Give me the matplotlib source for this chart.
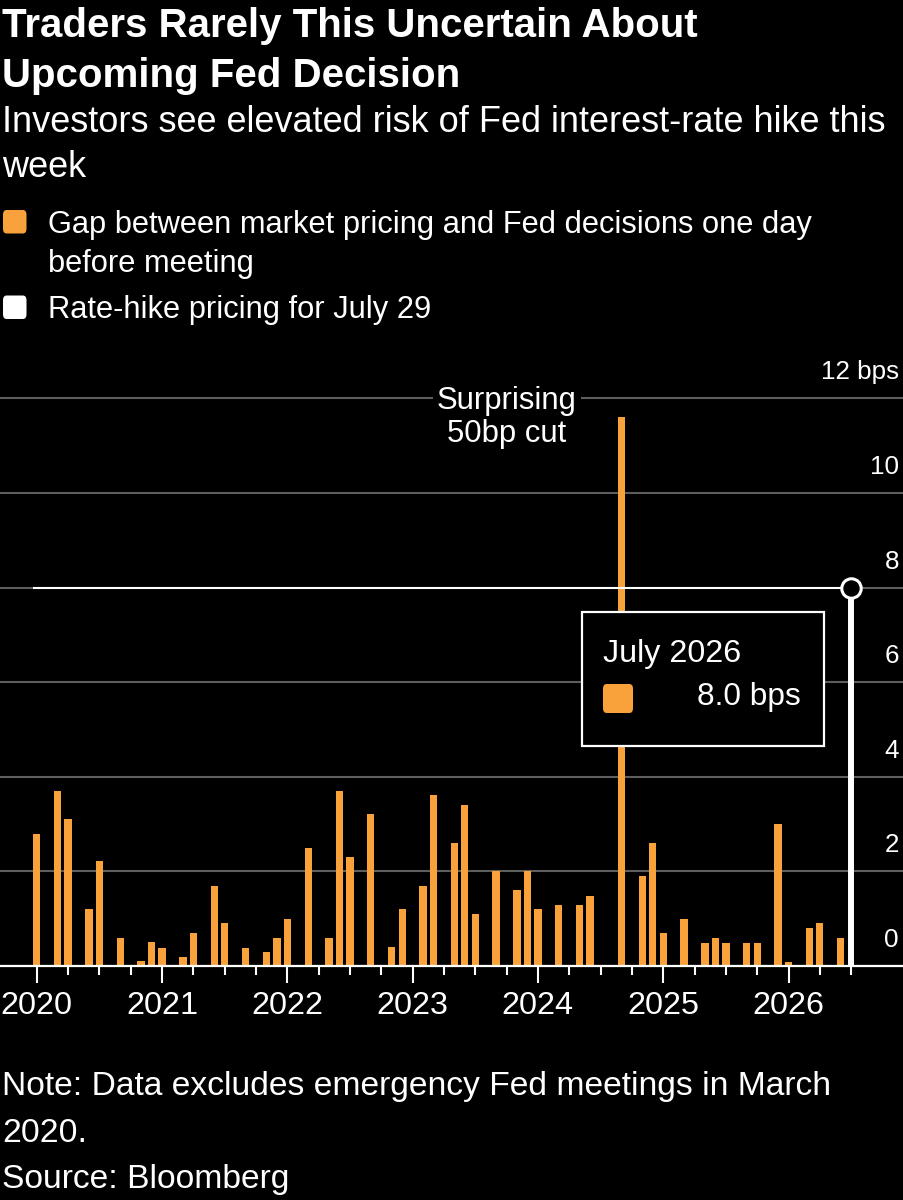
import matplotlib
matplotlib.use("Agg")
import matplotlib.pyplot as plt
from matplotlib.patches import Rectangle, FancyBboxPatch
import matplotlib.transforms as mtransforms

# ---------------- data ----------------
meeting_months = [
    "2020-01", "2020-03", "2020-04", "2020-06", "2020-07", "2020-09", "2020-11", "2020-12",
    "2021-01", "2021-03", "2021-04", "2021-06", "2021-07", "2021-09", "2021-11", "2021-12",
    "2022-01", "2022-03", "2022-05", "2022-06", "2022-07", "2022-09", "2022-11", "2022-12",
    "2023-02", "2023-03", "2023-05", "2023-06", "2023-07", "2023-09", "2023-11", "2023-12",
    "2024-01", "2024-03", "2024-05", "2024-06", "2024-07", "2024-09", "2024-11", "2024-12",
    "2025-01", "2025-03", "2025-05", "2025-06", "2025-07", "2025-09", "2025-10", "2025-12",
    "2026-01", "2026-03", "2026-04", "2026-06",
]
gap_bps = [
    2.80, 3.71, 3.10, 1.20, 2.21, 0.60, 0.10, 0.50,
    0.39, 0.20, 0.70, 1.70, 0.90, 0.39, 0.30, 0.60,
    1.00, 2.50, 0.60, 3.71, 2.30, 3.21, 0.40, 1.20,
    1.70, 3.61, 2.61, 3.41, 1.10, 2.00, 1.60, 2.00,
    1.20, 1.30, 1.30, 1.49, 0.00, 11.60, 1.90, 2.60,
    0.70, 0.99, 0.49, 0.60, 0.49, 0.49, 0.49, 3.00,
    0.09, 0.80, 0.90, 0.60,
]
hike_month = "2026-07"
hike_bps = 8.0
year_labels = ["2020", "2021", "2022", "2023", "2024", "2025", "2026"]
ytick_values = [0, 2, 4, 6, 8, 10, 12]
ytick_labels = ["0", "2", "4", "6", "8", "10", "12 bps"]

title_lines = ["Traders Rarely This Uncertain About", "Upcoming Fed Decision"]
subtitle_lines = ["Investors see elevated risk of Fed interest-rate hike this", "week"]
legend_lines_gap = ["Gap between market pricing and Fed decisions one day", "before meeting"]
legend_hike = "Rate-hike pricing for July 29"
note_lines = ["Note: Data excludes emergency Fed meetings in March", "2020."]
source_line = "Source: Bloomberg"
annotation = "Surprising\n50bp cut"
tooltip_title = "July 2026"
tooltip_value = "8.0 bps"

# ---------------- style ----------------
ORANGE = "#F9A13A"
BG = "black"
GRID = "#5e5e5e"
FONT = "Liberation Sans"
plt.rcParams["font.family"] = [FONT, "DejaVu Sans"]

W, H = 904, 1200
fig = plt.figure(figsize=(W / 100, H / 100), dpi=100, facecolor=BG)


def fx(x):
    return x / W


def fy(y):
    return 1 - y / H


def month_index(s):
    y, m = s.split("-")
    return (int(y) - 2020) * 12 + int(m) - 1


xs = [month_index(m) for m in meeting_months]
hike_x = month_index(hike_month)

# axes geometry (pixels)
px_per_month = 125.3 / 12
x0_px = 36.7          # Jan 2020
base_px = 966.0
px_per_bps = 47.3
ytop = 12.5
top_px = base_px - ytop * px_per_bps

ax = fig.add_axes([0, fy(base_px), 1, (base_px - top_px) / H], facecolor=BG)
ax.set_xlim(-x0_px / px_per_month, (W - x0_px) / px_per_month)
ax.set_ylim(0, ytop)

for s in ["top", "left", "right"]:
    ax.spines[s].set_visible(False)
ax.spines["bottom"].set_color("white")
ax.spines["bottom"].set_linewidth(1.6)
ax.spines["bottom"].set_zorder(4)

ax.set_yticks(ytick_values)
ax.yaxis.grid(True, color=GRID, linewidth=1.5)
ax.tick_params(axis="y", left=False, labelleft=False)
ax.set_axisbelow(True)

ax.set_xticks([12 * i for i in range(len(year_labels))])
ax.set_xticklabels(year_labels)
ax.set_xticks(list(range(0, hike_x + 1, 3)), minor=True)
ax.tick_params(axis="x", which="major", length=12, width=1.5, color="white",
               labelcolor="white", labelsize=23.3, pad=6)
ax.tick_params(axis="x", which="minor", length=6.5, width=1.5, color="white")
for lab in ax.get_xticklabels():
    lab.set_fontfamily(FONT)

# bars
ax.bar(xs, gap_bps, width=0.7, color=ORANGE, zorder=2)

# y labels above gridlines
ytrans = mtransforms.blended_transform_factory(ax.transAxes, ax.transData)
for v, lab in zip(ytick_values, ytick_labels):
    ax.text(899 / W, v + 0.4, lab, transform=ytrans, ha="right", va="baseline",
            color="white", fontsize=18.7, zorder=6)

# rate-hike pricing line and marker
ax.plot([-0.35, hike_x], [hike_bps, hike_bps], color="white", lw=1.5, zorder=3,
        solid_capstyle="butt")
ax.plot([hike_x, hike_x], [0, hike_bps], color="white", lw=4.3, zorder=3,
        solid_capstyle="butt")
ax.plot([hike_x], [hike_bps], marker="o", markersize=14, markerfacecolor="black",
        markeredgecolor="white", markeredgewidth=2.2, zorder=4, clip_on=False)

# annotation
ax.text(fx(507), fy(441.7), annotation, transform=fig.transFigure, ha="center",
        va="baseline", color="white", fontsize=22.4, linespacing=1.1, zorder=6,
        bbox=dict(facecolor=BG, edgecolor="none", pad=3))

# tooltip box
tip = Rectangle((fx(582), fy(745.5)), fx(824.3) - fx(582), fy(612.3) - fy(745.5),
                transform=fig.transFigure, facecolor=BG, edgecolor="white",
                linewidth=1.6, zorder=7)
fig.patches.append(tip)
fig.text(fx(603), fy(662), tooltip_title, ha="left", va="baseline", color="white",
         fontsize=23.2, zorder=8)
sq = FancyBboxPatch((fx(603), fy(713)), fx(633) - fx(603), fy(684) - fy(713),
                    boxstyle="round,pad=0,rounding_size=0.004",
                    transform=fig.transFigure, facecolor=ORANGE, edgecolor="none",
                    zorder=8)
fig.patches.append(sq)
fig.text(fx(801), fy(705), tooltip_value, ha="right", va="baseline", color="white",
         fontsize=22.8, zorder=8)

# title / subtitle
for i, line in enumerate(title_lines):
    fig.text(fx(2), fy(37 + 50 * i), line, ha="left", va="baseline", color="white",
             fontsize=29, fontweight="bold")
for i, line in enumerate(subtitle_lines):
    fig.text(fx(2), fy(132 + 45 * i), line, ha="left", va="baseline", color="white",
             fontsize=26)

# legend
for ytop_sq, col in [(210, ORANGE), (295.5, "white")]:
    p = FancyBboxPatch((fx(3), fy(ytop_sq + 23.5)), fx(26.5) - fx(3), 23.5 / H,
                       boxstyle="round,pad=0,rounding_size=0.004",
                       transform=fig.transFigure, facecolor=col, edgecolor="none")
    fig.patches.append(p)
for i, line in enumerate(legend_lines_gap):
    fig.text(fx(48), fy(233 + 39 * i), line, ha="left", va="baseline", color="white",
             fontsize=22.2)
fig.text(fx(48), fy(318), legend_hike, ha="left", va="baseline", color="white",
         fontsize=22.2)

# note / source
for i, line in enumerate(note_lines):
    fig.text(fx(2), fy(1095 + 46.7 * i), line, ha="left", va="baseline",
             color="white", fontsize=24.2)
fig.text(fx(2), fy(1188), source_line, ha="left", va="baseline", color="white",
         fontsize=24.2)

fig.savefig("out.png", dpi=100, facecolor=BG)
